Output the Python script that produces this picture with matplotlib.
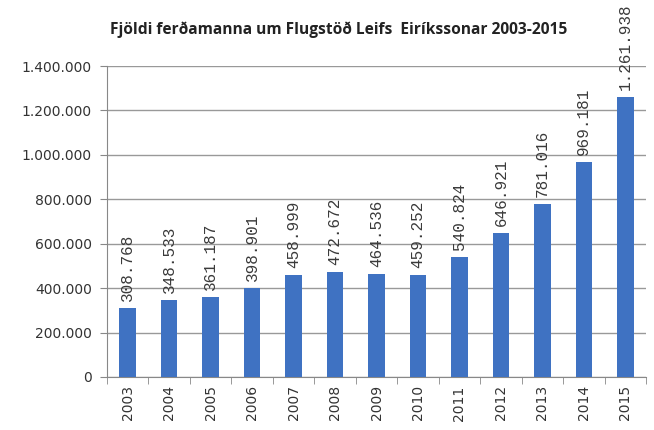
import matplotlib
matplotlib.use("Agg")
import matplotlib.pyplot as plt
import numpy as np

years = ["2003", "2004", "2005", "2006", "2007", "2008", "2009",
         "2010", "2011", "2012", "2013", "2014", "2015"]
visitors = [308768, 348533, 361187, 398901, 458999, 472672, 464536,
            459252, 540824, 646921, 781016, 969181, 1261938]
bar_labels = ["308.768", "348.533", "361.187", "398.901", "458.999", "472.672",
              "464.536", "459.252", "540.824", "646.921", "781.016", "969.181",
              "1.261.938"]
yticks = [0, 200000, 400000, 600000, 800000, 1000000, 1200000, 1400000]
ytick_labels = ["0", "200.000", "400.000", "600.000", "800.000",
                "1.000.000", "1.200.000", "1.400.000"]

fig = plt.figure(figsize=(6.54, 4.30), dpi=100)
ax = fig.add_axes([107/654, 1 - 377/430, (646-107)/654, (377-66)/430])

x = np.arange(len(years))
ax.bar(x, visitors, width=0.4, color="#3F72C2", zorder=3)

for xi, v, lab in zip(x, visitors, bar_labels):
    ax.annotate(lab, (xi, v), xytext=(0, 5), textcoords="offset points",
                rotation=90, ha="center", va="bottom", fontsize=11.5,
                family="Liberation Mono", color="#3a3a3a", annotation_clip=False)

ax.set_xlim(-0.5, len(years) - 0.5)
ax.set_ylim(0, 1400000)
ax.set_yticks(yticks)
ax.set_yticklabels(ytick_labels, fontsize=10, color="#333333")
ax.set_xticks(x)
ax.set_xticklabels(years, rotation=90, fontsize=10, color="#333333")
ax.tick_params(axis="x", length=0, pad=6)
ax.set_xticks(np.arange(-0.5, len(years)), minor=True)
ax.tick_params(axis="x", which="minor", length=5, color="#888888", direction="out")
ax.tick_params(axis="y", length=5, color="#888888", pad=6)

ax.grid(axis="y", color="#999999", linewidth=1, zorder=0)
for s in ["top", "right"]:
    ax.spines[s].set_visible(False)
for s in ["left", "bottom"]:
    ax.spines[s].set_color("#888888")

fig.text(339/654, 1 - 30/430, "Fjöldi ferðamanna um Flugstöð Leifs  Eiríkssonar 2003-2015",
         ha="center", va="center", fontsize=11.2, fontweight="bold",
         family="Open Sans", color="#222222")

fig.savefig("out.png", dpi=100)
